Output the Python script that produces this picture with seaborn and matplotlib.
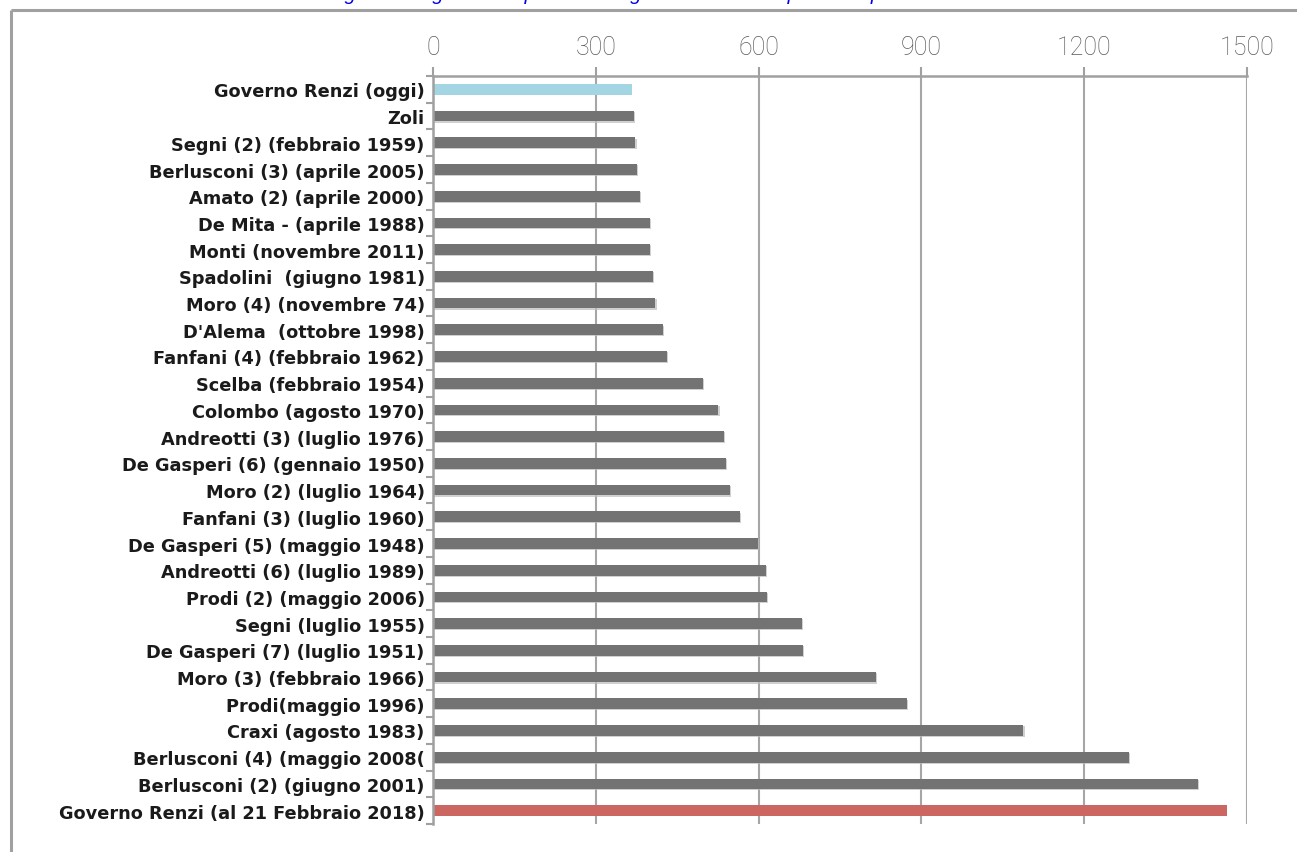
import numpy as np
import pandas as pd
import matplotlib
matplotlib.use("Agg")
import matplotlib.pyplot as plt
import matplotlib.patheffects as pe
from matplotlib.lines import Line2D
from matplotlib.ticker import FixedLocator
import seaborn as sns

# Governments, ordered as listed (top to bottom)
governi = [
    "Governo Renzi (oggi)",
    "Zoli",
    "Segni (2) (febbraio 1959)",
    "Berlusconi (3) (aprile 2005)",
    "Amato (2) (aprile 2000)",
    "De Mita - (aprile 1988)",
    "Monti (novembre 2011)",
    "Spadolini  (giugno 1981)",
    "Moro (4) (novembre 74)",
    "D'Alema  (ottobre 1998)",
    "Fanfani (4) (febbraio 1962)",
    "Scelba (febbraio 1954)",
    "Colombo (agosto 1970)",
    "Andreotti (3) (luglio 1976)",
    "De Gasperi (6) (gennaio 1950)",
    "Moro (2) (luglio 1964)",
    "Fanfani (3) (luglio 1960)",
    "De Gasperi (5) (maggio 1948)",
    "Andreotti (6) (luglio 1989)",
    "Prodi (2) (maggio 2006)",
    "Segni (luglio 1955)",
    "De Gasperi (7) (luglio 1951)",
    "Moro (3) (febbraio 1966)",
    "Prodi(maggio 1996)",
    "Craxi (agosto 1983)",
    "Berlusconi (4) (maggio 2008(",
    "Berlusconi (2) (giugno 2001)",
    "Governo Renzi (al 21 Febbraio 2018)",
]

# Duration in days
giorni = [
    367, 371, 373, 375, 381, 400, 400, 405, 410, 423, 431,
    497, 526, 536, 540, 548, 566, 599, 614, 616, 680, 682,
    816, 873, 1088, 1283, 1409, 1464,
]

x_ticks = [0, 300, 600, 900, 1200, 1500]

titolo = ("Durata in giorni dei governi: il primato del governo Renzi "
          "sopra tutti i precedenti")

GRAY = "#737373"
BLUE = "#A3D5E3"
RED = "#CC6660"
AXIS = "#a0a0a0"
colori = [BLUE] + [GRAY] * (len(governi) - 2) + [RED]

df = pd.DataFrame({"governo": governi, "giorni": giorni})

sns.set_theme(style="white")
plt.rcParams["font.family"] = ["DejaVu Sans"]

W, H = 1297, 853
fig = plt.figure(figsize=(W / 100, H / 100), dpi=100)
fig.patch.set_facecolor("white")

ax = fig.add_axes([433 / W, 1 - 825 / H, (1247 - 433) / W, (825 - 77) / H])

sns.barplot(data=df, x="giorni", y="governo", hue="governo",
            palette=colori, legend=False, width=0.4, orient="h",
            saturation=1, ax=ax, edgecolor="none")

# light drop shadow on the grey bars
for patch, c in zip(ax.patches, colori):
    if c == GRAY:
        patch.set_path_effects([
            pe.SimplePatchShadow(offset=(0.8, -0.8), shadow_rgbFace="#bdbdbd", alpha=0.7),
            pe.Normal(),
        ])

ax.set_xlim(0, 1500)
ax.set_ylim(len(governi) - 0.5, -0.5)
ax.set_xlabel("")
ax.set_ylabel("")

# value axis on top
ax.xaxis.tick_top()
ax.set_xticks(x_ticks)
ax.set_xticklabels([str(t) for t in x_ticks], family="Roboto", fontweight="light",
                   fontsize=18, color="#595959")
ax.tick_params(axis="x", which="major", direction="out", length=6.5, width=1.5,
               color=AXIS, pad=6, top=True, bottom=False)

ax.grid(axis="x", color="#a6a6a6", linewidth=1.5)
ax.grid(axis="y", visible=False)
ax.set_axisbelow(True)

# category labels and tick marks between categories
ax.tick_params(axis="y", which="major", length=0, pad=6)
for lbl in ax.get_yticklabels():
    lbl.set_fontweight("bold")
    lbl.set_fontsize(12.8)
    lbl.set_color("#1a1a1a")
ax.yaxis.set_minor_locator(FixedLocator(np.arange(-0.5, len(governi), 1.0)))
ax.tick_params(axis="y", which="minor", direction="out", length=5, width=1.5,
               color=AXIS, left=True)

for side in ("right", "bottom"):
    ax.spines[side].set_visible(False)
for side in ("left", "top"):
    ax.spines[side].set_visible(True)
    ax.spines[side].set_color(AXIS)
    ax.spines[side].set_linewidth(1.8)
    ax.spines[side].set_zorder(5)

# outer frame, running off the right and bottom edges
fx, fy = 10.5 / W, 1 - 10.5 / H
fig.add_artist(Line2D([fx, fx], [-0.05, fy], transform=fig.transFigure,
                      color=AXIS, linewidth=2.2, solid_capstyle="butt"))
fig.add_artist(Line2D([fx, 1.05], [fy, fy], transform=fig.transFigure,
                      color=AXIS, linewidth=2.2, solid_capstyle="butt"))

# title, sitting on the top edge
fig.text(0.471, 1.0, titolo, ha="center", va="baseline", color="#0000EE",
         fontstyle="italic", fontsize=14.5, family="Liberation Sans")

fig.savefig("out.png", dpi=100, facecolor="white")
